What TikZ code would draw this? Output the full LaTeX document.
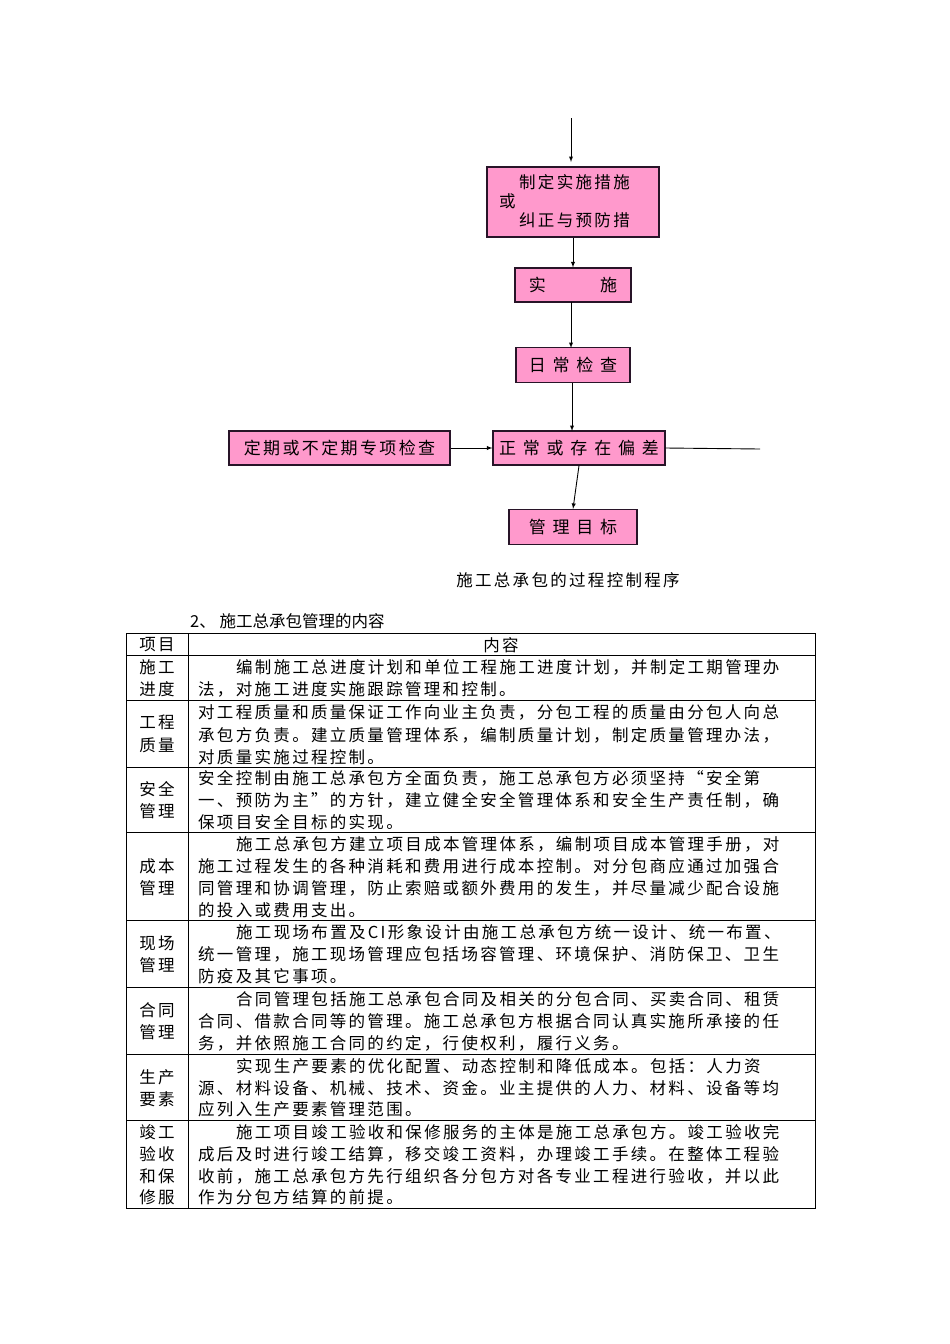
\documentclass[tikz,border=0pt]{standalone}
\usepackage{fontspec}
\setmainfont{Liberation Serif}
\newfontfamily\cjk[LetterSpace=14]{Noto Sans CJK SC}
\newfontfamily\cjkw[LetterSpace=40]{Noto Sans CJK SC}
\definecolor{pinkbox}{RGB}{255,153,204}
\definecolor{boxline}{RGB}{40,20,40}
\begin{document}
\begin{tikzpicture}[x=1pt,y=-1pt,
  fbox/.style={draw=boxline,line width=1.2pt,fill=pinkbox,inner sep=0,font=\cjk\fontsize{17}{17}\selectfont},
  arr/.style={-latex,line width=0.9pt},
  tl/.style={anchor=west,inner sep=0,font=\cjk\fontsize{16.5}{16.5}\selectfont},
  tc/.style={anchor=center,inner sep=0,font=\cjk\fontsize{16.5}{16.5}\selectfont},
  grid/.style={line width=0.8pt}]
\useasboundingbox (0,0) rectangle (950,1344);
\fill[white] (0,0) rectangle (950,1344);
% flowchart
\coordinate (top) at (571,118);
\node[fbox,minimum width=172pt,minimum height=70pt] (b1) at (573,202) {};
\node[tl] (b1a) at (519,182) {制定实施措施};
\node[tl] (b1b) at (499,201) {或};
\node[tl] (b1c) at (519,220) {纠正与预防措};
\node[fbox,minimum width=116pt,minimum height=34pt] (b2) at (573,285) {实\hspace{3.2em}施};
\node[fbox,minimum width=114pt,minimum height=35pt,font=\cjkw\fontsize{17}{17}\selectfont] (b3) at (573,365) {日常检查};
\node[fbox,minimum width=172pt,minimum height=34pt,font=\cjkw\fontsize{17}{17}\selectfont] (b4) at (579,448) {正常或存在偏差};
\node[fbox,minimum width=221pt,minimum height=34pt] (b5) at (339.5,448) {定期或不定期专项检查};
\node[fbox,minimum width=128pt,minimum height=35pt,font=\cjkw\fontsize{17}{17}\selectfont] (b6) at (573,527) {管理目标};
\coordinate (rend) at (760,449);
\draw[arr] (top) -- (571,162);
\draw[arr] (b1.south) -- (b2.north);
\draw[arr] (571,302) -- (571,348);
\draw[arr] (572,383) -- (572,431);
\draw[arr] (b5.east) -- (b4.west);
\draw[line width=0.9pt] (b4.east) -- (rend);
\draw[arr] (b4.south) -- (b6.north);
\node[tl,font=\cjk\fontsize{16.5}{16.5}\selectfont,anchor=center] (cap) at (568,580) {施工总承包的过程控制程序};
\node[tl] (h2) at (190,621) {\addfontfeature{LetterSpace=0}2、 施工总承包管理的内容};
% table
\draw[grid] (126,633) rectangle (815,1208);
\draw[grid] (188,633) -- (188,1208);
\foreach \y in {655,700,767,832,920,987,1054,1120} \draw[grid] (126,\y) -- (815,\y);
\node[tc] (hd1) at (157,645) {项目};
\node[tc] (hd2) at (501,645) {内容};
% labels
\node[tc] (l1a) at (157,667) {施工}; \node[tc] (l1b) at (157,689) {进度};
\node[tc] (l2a) at (157,722) {工程}; \node[tc] (l2b) at (157,745) {质量};
\node[tc] (l3a) at (157,789) {安全}; \node[tc] (l3b) at (157,811) {管理};
\node[tc] (l4a) at (157,866) {成本}; \node[tc] (l4b) at (157,888) {管理};
\node[tc] (l5a) at (157,943) {现场}; \node[tc] (l5b) at (157,965) {管理};
\node[tc] (l6a) at (157,1010) {合同}; \node[tc] (l6b) at (157,1032) {管理};
\node[tc] (l7a) at (157,1077) {生产}; \node[tc] (l7b) at (157,1099) {要素};
\node[tc] (l8a) at (157,1132) {竣工}; \node[tc] (l8b) at (157,1154) {验收};
\node[tc] (l8c) at (157,1176) {和保}; \node[tc] (l8d) at (157,1197) {修服};
% content
\node[tl] (r1a) at (236,667) {编制施工总进度计划和单位工程施工进度计划，并制定工期管理办};
\node[tl] (r1b) at (198,689) {法，对施工进度实施跟踪管理和控制。};
\node[tl] (r2a) at (198,712) {对工程质量和质量保证工作向业主负责，分包工程的质量由分包人向总};
\node[tl] (r2b) at (198,735) {承包方负责。建立质量管理体系，编制质量计划，制定质量管理办法，};
\node[tl] (r2c) at (198,757) {对质量实施过程控制。};
\node[tl] (r3a) at (198,778) {安全控制由施工总承包方全面负责，施工总承包方必须坚持“安全第};
\node[tl] (r3b) at (198,800) {一、预防为主”的方针，建立健全安全管理体系和安全生产责任制，确};
\node[tl] (r3c) at (198,822) {保项目安全目标的实现。};
\node[tl] (r4a) at (236,844) {施工总承包方建立项目成本管理体系，编制项目成本管理手册，对};
\node[tl] (r4b) at (198,866) {施工过程发生的各种消耗和费用进行成本控制。对分包商应通过加强合};
\node[tl] (r4c) at (198,888) {同管理和协调管理，防止索赔或额外费用的发生，并尽量减少配合设施};
\node[tl] (r4d) at (198,910) {的投入或费用支出。};
\node[tl] (r5a) at (236,932) {施工现场布置及CI形象设计由施工总承包方统一设计、统一布置、};
\node[tl] (r5b) at (198,954) {统一管理，施工现场管理应包括场容管理、环境保护、消防保卫、卫生};
\node[tl] (r5c) at (198,976) {防疫及其它事项。};
\node[tl] (r6a) at (236,999) {合同管理包括施工总承包合同及相关的分包合同、买卖合同、租赁};
\node[tl] (r6b) at (198,1021) {合同、借款合同等的管理。施工总承包方根据合同认真实施所承接的任};
\node[tl] (r6c) at (198,1043) {务，并依照施工合同的约定，行使权利，履行义务。};
\node[tl] (r7a) at (236,1066) {实现生产要素的优化配置、动态控制和降低成本。包括：人力资};
\node[tl] (r7b) at (198,1088) {源、材料设备、机械、技术、资金。业主提供的人力、材料、设备等均};
\node[tl] (r7c) at (198,1109) {应列入生产要素管理范围。};
\node[tl] (r8a) at (236,1132) {施工项目竣工验收和保修服务的主体是施工总承包方。竣工验收完};
\node[tl] (r8b) at (198,1154) {成后及时进行竣工结算，移交竣工资料，办理竣工手续。在整体工程验};
\node[tl] (r8c) at (198,1176) {收前，施工总承包方先行组织各分包方对各专业工程进行验收，并以此};
\node[tl] (r8d) at (198,1197) {作为分包方结算的前提。};
\end{tikzpicture}
\end{document}
